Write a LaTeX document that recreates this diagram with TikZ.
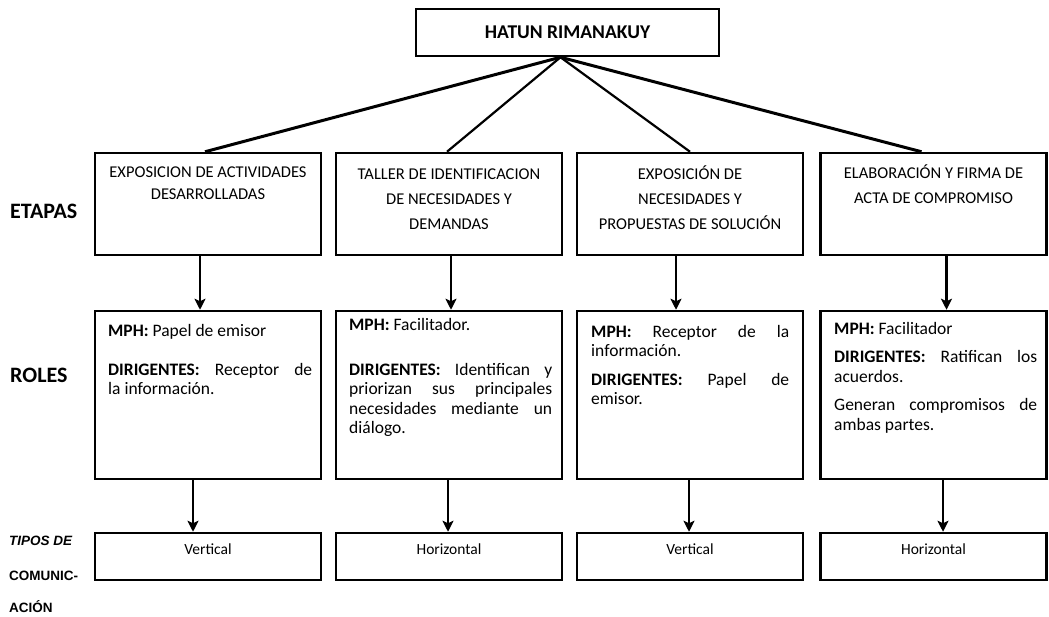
\documentclass[tikz,border=0pt]{standalone}
\usepackage{fontspec}
\setmainfont{Carlito}
\newfontfamily\lblfont{Liberation Sans}
\usetikzlibrary{arrows.meta}
\newcommand{\jl}[1]{\makebox[\linewidth][s]{#1}\par}
\begin{document}
\begin{tikzpicture}[x=1pt,y=-1pt,
  box/.style={draw, line width=2.5pt, inner sep=0pt, minimum width=226pt},
  link/.style={line width=3pt},
  linkthin/.style={line width=2.2pt},
  arr/.style={line width=2.2pt, -{Stealth[length=11pt,width=11pt,inset=2.5pt]}},
  etxt/.style={inner sep=0pt, anchor=base, font=\fontsize{16.5}{25}\selectfont},
  rtxt/.style={inner sep=0pt, anchor=base west, font=\fontsize{17.5}{19.5}\selectfont},
  ttxt/.style={inner sep=0pt, anchor=base, font=\fontsize{15.5}{18}\selectfont},
  lbl/.style={inner sep=0pt, anchor=west, font=\bfseries\fontsize{22}{26}\selectfont},
  lbls/.style={inner sep=0pt, anchor=west, font=\lblfont\bfseries\fontsize{13.5}{16}\selectfont},
]
\useasboundingbox (0,0) rectangle (1049,616);

% top
\node[box, minimum width=303pt, minimum height=47pt,
      font=\bfseries\fontsize{19.5}{22}\selectfont] (top) at (567.5,32.5) {HATUN RIMANAKUY};

% etapas boxes
\node[box, minimum height=102pt] (e1) at (208,204) {};
\node[box, minimum height=102pt] (e2) at (449,204) {};
\node[box, minimum height=102pt] (e3) at (690,204) {};
\node[box, minimum height=102pt] (e4) at (933.5,204) {};

\node[etxt] (et1) at (208,177) {\parbox[t]{215pt}{\centering\baselineskip=22pt EXPOSICION DE ACTIVIDADES\\DESARROLLADAS}};
\node[etxt] (et2) at (449,179) {\parbox[t]{215pt}{\centering TALLER DE IDENTIFICACION\\DE NECESIDADES Y\\DEMANDAS}};
\node[etxt] (et3) at (690,179) {\parbox[t]{215pt}{\centering EXPOSICIÓN DE\\NECESIDADES Y\\PROPUESTAS DE SOLUCIÓN}};
\node[etxt] (et4) at (933.5,178) {\parbox[t]{215pt}{\centering ELABORACIÓN Y FIRMA DE\\ACTA DE COMPROMISO}};

% roles boxes
\node[box, minimum height=168pt] (r1) at (208,395) {};
\node[box, minimum height=168pt] (r2) at (449,395) {};
\node[box, minimum height=168pt] (r3) at (690,395) {};
\node[box, minimum height=168pt] (r4) at (933.5,395) {};

\node[rtxt] (rt1) at (108,336) {\parbox[t]{204pt}{%
  \textbf{MPH:} Papel de emisor\par\vspace{19.5pt}
  \jl{\textbf{DIRIGENTES:} Receptor de}
  la información.}};
\node[rtxt] (rt2) at (349,330) {\parbox[t]{203pt}{%
  \textbf{MPH:} Facilitador.\par\vspace{25.5pt}
  \jl{\textbf{DIRIGENTES:} Identifican y}
  \jl{priorizan sus principales}
  \jl{necesidades mediante un}
  diálogo.}};
\node[rtxt] (rt3) at (591,337) {\parbox[t]{198pt}{%
  \jl{\textbf{MPH:} Receptor de la}
  información.\par\vspace{9pt}
  \jl{\textbf{DIRIGENTES:} Papel de}
  emisor.}};
\node[rtxt] (rt4) at (834,334) {\parbox[t]{203pt}{%
  \textbf{MPH:} Facilitador\par\vspace{9pt}
  \jl{\textbf{DIRIGENTES:} Ratifican los}
  acuerdos.\par\vspace{9pt}
  \jl{Generan compromisos de}
  ambas partes.}};

% tipos boxes
\node[box, minimum height=47pt] (t1) at (208,556.5) {};
\node[box, minimum height=47pt] (t2) at (449,556.5) {};
\node[box, minimum height=47pt] (t3) at (690,556.5) {};
\node[box, minimum height=47pt] (t4) at (933.5,556.5) {};

\node[ttxt] (tt1) at (208,554) {Vertical};
\node[ttxt] (tt2) at (449,554) {Horizontal};
\node[ttxt] (tt3) at (690,554) {Vertical};
\node[ttxt] (tt4) at (933.5,554) {Horizontal};

% left labels
\node[lbl] (l1) at (10,211) {ETAPAS};
\node[lbl] (l2) at (10,375) {ROLES};
\node[lbls] (l3a) at (9,541) {\itshape TIPOS DE};
\node[lbls] (l3b) at (9,576) {COMUNIC-};
\node[lbls] (l3c) at (9,607) {ACIÓN};

% connectors from top
\coordinate (hub) at ([xshift=-7pt]top.south);
\draw[link] (hub) -- ([xshift=-3pt]e1.north);
\draw[linkthin] (hub) -- ([xshift=-2pt]e2.north);
\draw[linkthin] (hub) -- (e3.north);
\draw[link] (hub) -- ([xshift=-12pt]e4.north);

% arrows etapas -> roles
\draw[arr] ([xshift=-8pt]e1.south) -- ([xshift=-8pt]r1.north);
\draw[arr] ([xshift=2pt]e2.south) -- ([xshift=2pt]r2.north);
\draw[arr] ([xshift=-14pt]e3.south) -- ([xshift=-14pt]r3.north);
\draw[arr] ([xshift=13pt]e4.south) -- ([xshift=13pt]r4.north);

% arrows roles -> tipos
\draw[arr] ([xshift=-15pt]r1.south) -- ([xshift=-15pt]t1.north);
\draw[arr] ([xshift=-1pt]r2.south) -- ([xshift=-1pt]t2.north);
\draw[arr] ([xshift=-1pt]r3.south) -- ([xshift=-1pt]t3.north);
\draw[arr] ([xshift=9.5pt]r4.south) -- ([xshift=9.5pt]t4.north);
\end{tikzpicture}
\end{document}
